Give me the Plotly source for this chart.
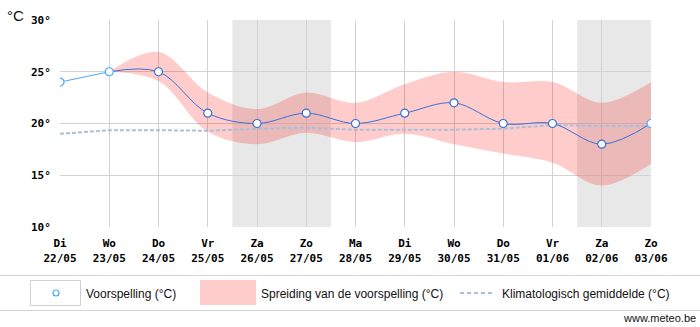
import plotly.graph_objects as go

# ---- data ----
dates = ["2018-05-22", "2018-05-23", "2018-05-24", "2018-05-25", "2018-05-26",
         "2018-05-27", "2018-05-28", "2018-05-29", "2018-05-30", "2018-05-31",
         "2018-06-01", "2018-06-02", "2018-06-03"]
day_labels = ["Di", "Wo", "Do", "Vr", "Za", "Zo", "Ma", "Di", "Wo", "Do", "Vr", "Za", "Zo"]
date_labels = ["22/05", "23/05", "24/05", "25/05", "26/05", "27/05", "28/05",
               "29/05", "30/05", "31/05", "01/06", "02/06", "03/06"]
forecast = [24, 25, 25, 21, 20, 21, 20, 21, 22, 20, 20, 18, 20]
spread_dates = dates[1:]
spread_upper = [25, 26.9, 23.0, 21.4, 23.0, 22.0, 23.8, 25.0, 24.0, 24.0, 22.0, 24.0]
spread_lower = [25, 24.1, 19.2, 18.0, 19.1, 18.2, 19.0, 18.0, 17.1, 16.2, 14.0, 16.1]
climate = [19.0, 19.35, 19.35, 19.3, 19.5, 19.6, 19.4, 19.4, 19.4, 19.5, 19.85, 19.75, 19.75]
weekends = [("2018-05-25 12:00", "2018-05-27 12:00"), ("2018-06-01 12:00", "2018-06-03 00:00")]
y_ticks = [10, 15, 20, 25, 30]

DARK = "#3a6fd8"
LIGHT = "#4da6ff"
PINK = "rgba(255,0,0,0.2)"
CLIM = "#a9bfdb"
GRID = "#d2d2d2"

fig = go.Figure()

# spread band
fig.add_trace(go.Scatter(x=spread_dates, y=spread_lower, mode="lines",
                         line=dict(width=0, shape="spline"), hoverinfo="skip",
                         showlegend=False))
fig.add_trace(go.Scatter(x=spread_dates, y=spread_upper, mode="lines",
                         line=dict(width=0, shape="spline"), fill="tonexty",
                         fillcolor=PINK, hoverinfo="skip", showlegend=False))

# climatology
fig.add_trace(go.Scatter(x=dates, y=climate, mode="lines",
                         line=dict(color=CLIM, width=2, dash="4px,2px"),
                         showlegend=False))

# forecast: first segment light, rest dark spline
fig.add_trace(go.Scatter(x=dates[:2], y=forecast[:2], mode="lines",
                         line=dict(color=LIGHT, width=1), showlegend=False))
fig.add_trace(go.Scatter(x=dates[1:], y=forecast[1:], mode="lines",
                         line=dict(color=DARK, width=1, shape="spline"),
                         showlegend=False))
mcols = [LIGHT, LIGHT] + [DARK] * 10 + [LIGHT]
fig.add_trace(go.Scatter(x=dates, y=forecast, mode="markers",
                         marker=dict(size=8, color="white",
                                     line=dict(color=mcols, width=1.2)),
                         showlegend=False))

# weekend shading
shapes = []
for a, b in weekends:
    shapes.append(dict(type="rect", xref="x", yref="paper", x0=a, x1=b, y0=0, y1=1,
                       fillcolor="#e8e8e8", line=dict(width=0), layer="below"))

# legend box (pixel helpers)
W_PLOT, H_PLOT, L, T = 591.0, 207.0, 60.0, 20.0
def px(xp):
    return (xp - L) / W_PLOT
def py(yp):
    return (T + H_PLOT - yp) / H_PLOT

shapes += [
    dict(type="line", xref="paper", yref="paper", x0=px(0), x1=px(700), y0=py(275.5), y1=py(275.5),
         line=dict(color="#d4d4d4", width=1)),
    dict(type="line", xref="paper", yref="paper", x0=px(0), x1=px(700), y0=py(310.5), y1=py(310.5),
         line=dict(color="#d4d4d4", width=1)),
    dict(type="rect", xref="paper", yref="paper", x0=px(30.5), x1=px(80.5), y0=py(305.5), y1=py(280.5),
         line=dict(color="#d0d0d0", width=1), fillcolor="white"),
    dict(type="circle", xref="paper", yref="paper", x0=px(53), x1=px(59), y0=py(296), y1=py(290),
         line=dict(color=LIGHT, width=1.2), fillcolor="white"),
    dict(type="rect", xref="paper", yref="paper", x0=px(200), x1=px(256), y0=py(305), y1=py(280),
         line=dict(width=0), fillcolor="#ffcccc"),
    dict(type="line", xref="paper", yref="paper", x0=px(460), x1=px(495), y0=py(293), y1=py(293),
         line=dict(color=CLIM, width=2, dash="4px,3px")),
]

ann_font = dict(family="Liberation Sans, Arial, sans-serif", size=12, color="#111")
annotations = [
    dict(text="°C", xref="paper", yref="paper", x=px(5), y=py(16), xanchor="left", yanchor="middle",
         showarrow=False, font=dict(family="Liberation Sans, Arial, sans-serif", size=15, color="#111")),
    dict(text="Voorspelling (°C)", xref="paper", yref="paper", x=px(84), y=py(294), xanchor="left",
         yanchor="middle", showarrow=False, font=ann_font),
    dict(text="Spreiding van de voorspelling (°C)", xref="paper", yref="paper", x=px(259), y=py(294),
         xanchor="left", yanchor="middle", showarrow=False, font=ann_font),
    dict(text="Klimatologisch gemiddelde (°C)", xref="paper", yref="paper", x=px(500), y=py(294),
         xanchor="left", yanchor="middle", showarrow=False, font=ann_font),
    dict(text="www.meteo.be", xref="paper", yref="paper", x=px(698), y=py(318), xanchor="right",
         yanchor="middle", showarrow=False,
         font=dict(family="Liberation Sans, Arial, sans-serif", size=11, color="#111")),
]

tick_font = dict(family="DejaVu Sans Mono, monospace", size=11, color="#000", weight="bold")

fig.update_layout(
    width=700, height=327,
    margin=dict(l=60, r=49, t=20, b=100),
    paper_bgcolor="white", plot_bgcolor="white",
    shapes=shapes, annotations=annotations,
    showlegend=False,
    xaxis=dict(range=[dates[0], dates[-1]], tickvals=dates,
               ticktext=[f"{d}<br>{t}" for d, t in zip(day_labels, date_labels)],
               showgrid=True, gridcolor=GRID, gridwidth=1, zeroline=False,
               showline=False, ticks="outside", ticklen=6, tickcolor="rgba(0,0,0,0)",
               tickfont=tick_font, tickangle=0),
    yaxis=dict(range=[10, 30], tickvals=y_ticks, ticktext=[f"{v}°" for v in y_ticks],
               showgrid=True, gridcolor=GRID, gridwidth=1, zeroline=False,
               showline=False, ticks="outside", ticklen=6, tickcolor="rgba(0,0,0,0)",
               tickfont=tick_font),
)

fig.write_html("out.html")
